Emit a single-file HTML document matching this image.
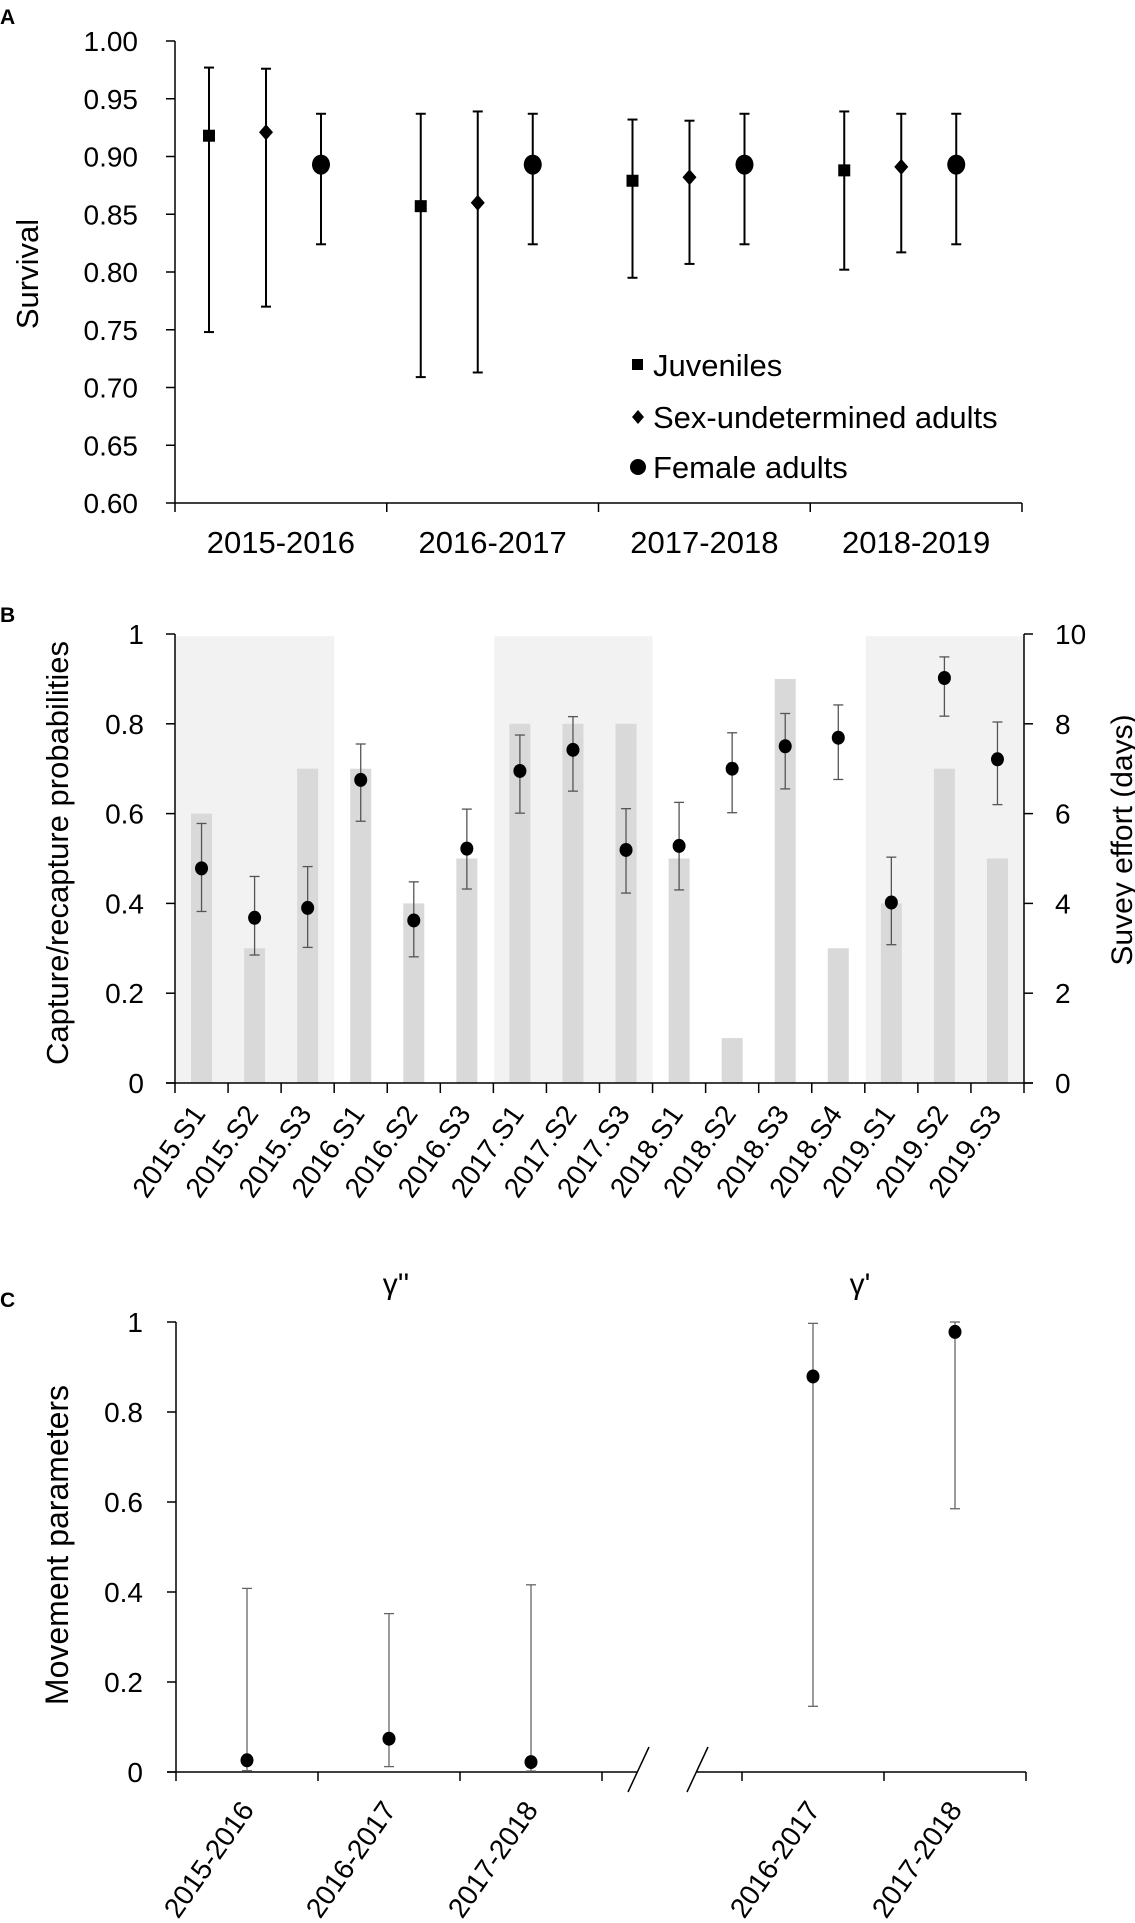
<!DOCTYPE html>
<html><head><meta charset="utf-8"><style>
html,body{margin:0;padding:0;background:#fff}
svg{display:block;font-family:"Liberation Sans",Arial,sans-serif}
</style></head><body>
<svg id="fig" width="1135" height="1923" viewBox="0 0 1135 1923" xmlns="http://www.w3.org/2000/svg">
<g id="pA"></g>
<g id="pB"></g>
<g id="pC"></g>
</svg>
<script>
// Panel A data
const aGroups = ["2015-2016","2016-2017","2017-2018","2018-2019"];
const aYTicks = [0.60,0.65,0.70,0.75,0.80,0.85,0.90,0.95,1.00];
const juvEst = [0.918,0.857,0.879,0.888];
const juvLo  = [0.748,0.709,0.795,0.802];
const juvHi  = [0.977,0.937,0.932,0.939];
const sexEst = [0.921,0.860,0.882,0.891];
const sexLo  = [0.770,0.713,0.807,0.817];
const sexHi  = [0.976,0.939,0.931,0.937];
const femEst = [0.893,0.893,0.893,0.893];
const femLo  = [0.824,0.824,0.824,0.824];
const femHi  = [0.937,0.937,0.937,0.937];
const aLegend = ["Juveniles","Sex-undetermined adults","Female adults"];

// Panel B data
const bCats = ["2015.S1","2015.S2","2015.S3","2016.S1","2016.S2","2016.S3","2017.S1","2017.S2","2017.S3","2018.S1","2018.S2","2018.S3","2018.S4","2019.S1","2019.S2","2019.S3"];
const bEffort = [6,3,7,7,4,5,8,8,8,5,1,9,3,4,7,5];
const bEst = [0.478,0.368,0.390,0.675,0.362,0.522,0.695,0.742,0.519,0.528,0.700,0.750,0.769,0.402,0.902,0.721];
const bLo  = [0.382,0.285,0.302,0.583,0.281,0.432,0.601,0.650,0.423,0.430,0.602,0.655,0.676,0.308,0.817,0.620];
const bHi  = [0.578,0.460,0.482,0.755,0.448,0.610,0.775,0.816,0.611,0.625,0.780,0.823,0.842,0.503,0.949,0.804];
const bBands = [[0,2],[6,8],[13,15]];
const bLeftTicks = [0,0.2,0.4,0.6,0.8,1];
const bRightTicks = [0,2,4,6,8,10];

// Panel C data
const cLeftCats = ["2015-2016","2016-2017","2017-2018"];
const cLeftEst = [0.026,0.074,0.022];
const cLeftLo  = [0.003,0.012,0.002];
const cLeftHi  = [0.408,0.352,0.416];
const cRightCats = ["2016-2017","2017-2018"];
const cRightEst = [0.879,0.978];
const cRightLo  = [0.146,0.585];
const cRightHi  = [0.997,1.000];
const cYTicks = [0,0.2,0.4,0.6,0.8,1];

const NS="http://www.w3.org/2000/svg";
function mk(parent, tag, attrs, text){
  const e=document.createElementNS(NS,tag);
  for(const k in attrs) e.setAttribute(k,attrs[k]);
  if(text!==undefined) e.textContent=text;
  parent.appendChild(e); return e;
}

// ---------- Panel A ----------
(function(){
  const g=document.getElementById('pA');
  const x0=175,x1=1022,yT=41,yB=503;
  const y=v=>yB-(v-0.6)/0.4*(yB-yT);
  const gw=(x1-x0)/aGroups.length;
  let t=mk(g,'text',{x:0,y:24,'font-size':21,'font-weight':'bold'},'A');
   
  let ax=mk(g,'line',{x1:x0,y1:yT,x2:x0,y2:yB,stroke:'#000','stroke-width':1.5});
   
  ax=mk(g,'line',{x1:x0,y1:yB,x2:x1,y2:yB,stroke:'#000','stroke-width':1.5});
   
  aYTicks.forEach(v=>{
    mk(g,'line',{x1:x0-9,y1:y(v),x2:x0,y2:y(v),stroke:'#000','stroke-width':1.5});
    const l=mk(g,'text',{x:138,y:y(v)+10,'font-size':28,'text-anchor':'end'},v.toFixed(2));
     
  });
  for(let i=0;i<=aGroups.length;i++) mk(g,'line',{x1:x0+i*gw,y1:yB,x2:x0+i*gw,y2:yB+9,stroke:'#000','stroke-width':1.5});
  aGroups.forEach((c,i)=>{
    const l=mk(g,'text',{x:x0+gw*(i+0.5),y:553,'font-size':31,'text-anchor':'middle'},c);
     
  });
  const yl=mk(g,'text',{transform:'translate(38,274) rotate(-90)','font-size':31,'text-anchor':'middle'},'Survival');
   
  const series=[[juvEst,juvLo,juvHi,'sq'],[sexEst,sexLo,sexHi,'di'],[femEst,femLo,femHi,'ci']];
  series.forEach(([e,lo,hi,shape],si)=>{
    e.forEach((v,i)=>{
      const xx= x0+gw*i+[34,91,146][si];
      const gg=mk(g,'g',{});
      
      
      mk(gg,'line',{x1:xx,y1:y(hi[i]),x2:xx,y2:y(lo[i]),stroke:'#000','stroke-width':2});
      mk(gg,'line',{x1:xx-5,y1:y(hi[i]),x2:xx+5,y2:y(hi[i]),stroke:'#000','stroke-width':2});
      mk(gg,'line',{x1:xx-5,y1:y(lo[i]),x2:xx+5,y2:y(lo[i]),stroke:'#000','stroke-width':2});
      const yy=y(v);
      if(shape==='sq') mk(gg,'rect',{x:xx-6,y:yy-6,width:12,height:12,fill:'#000'});
      else if(shape==='di') mk(gg,'polygon',{points:`${xx},${yy-8} ${xx+7},${yy} ${xx},${yy+8} ${xx-7},${yy}`,fill:'#000'});
      else mk(gg,'ellipse',{cx:xx,cy:yy,rx:9,ry:10,fill:'#000'});
    });
  });
  const ly=[376,428,478];
  aLegend.forEach((s,i)=>{
    const lg=mk(g,'g',{});
     
    const cy=ly[i]-11;
    if(i===0) mk(lg,'rect',{x:632,y:cy-6,width:11,height:11,fill:'#000'});
    else if(i===1) mk(lg,'polygon',{points:`638,${cy-7} 644,${cy} 638,${cy+7} 632,${cy}`,fill:'#000'});
    else mk(lg,'circle',{cx:638,cy:cy,r:8,fill:'#000'});
    mk(lg,'text',{x:653,y:ly[i],'font-size':31},s);
  });
})();

// ---------- Panel B ----------
(function(){
  const g=document.getElementById('pB');
  const x0=175,x1=1024,yT=634,yB=1083;
  const y=v=>yB-v*(yB-yT);
  const yr=v=>yB-v/10*(yB-yT);
  const cw=(x1-x0)/bCats.length;
  const cx=i=>x0+cw*(i+0.5);
  let t=mk(g,'text',{x:0,y:622,'font-size':21,'font-weight':'bold'},'B');
   
  bBands.forEach(([a,b])=>{
    const r=mk(g,'rect',{x:x0+cw*a+1,y:y(0.995),width:cw*(b-a+1)-1,height:y(0)-y(0.995),fill:'#f2f2f2'});
     
  });
  bEffort.forEach((v,i)=>{
    const r=mk(g,'rect',{x:cx(i)-10.5,y:yr(v),width:21,height:yB-yr(v),fill:'#d9d9d9'});
     
  });
  let ax=mk(g,'line',{x1:x0,y1:yT,x2:x0,y2:yB,stroke:'#000','stroke-width':1.5});
   
  ax=mk(g,'line',{x1:x1,y1:yT,x2:x1,y2:yB,stroke:'#000','stroke-width':1.5});
   
  ax=mk(g,'line',{x1:x0-9,y1:yB,x2:x1+9,y2:yB,stroke:'#000','stroke-width':1.5});
   
  bLeftTicks.forEach(v=>{
    mk(g,'line',{x1:x0-9,y1:y(v),x2:x0,y2:y(v),stroke:'#000','stroke-width':1.5});
    const l=mk(g,'text',{x:144,y:y(v)+10,'font-size':28,'text-anchor':'end'},String(v));
     
  });
  bRightTicks.forEach(v=>{
    mk(g,'line',{x1:x1,y1:yr(v),x2:x1+9,y2:yr(v),stroke:'#000','stroke-width':1.5});
    const l=mk(g,'text',{x:1055,y:yr(v)+10,'font-size':28},String(v));
     
  });
  for(let i=0;i<=bCats.length;i++) mk(g,'line',{x1:x0+i*cw,y1:yB,x2:x0+i*cw,y2:yB+10,stroke:'#000','stroke-width':1.5});
  bCats.forEach((c,i)=>{
    const l=mk(g,'text',{transform:`translate(${cx(i)+5},${1114}) rotate(-55)`,'font-size':28,'text-anchor':'end'},c);
     
  });
  bEst.forEach((v,i)=>{
    const gg=mk(g,'g',{});
     
    const xx=cx(i);
    mk(gg,'line',{x1:xx,y1:y(bHi[i]),x2:xx,y2:y(bLo[i]),stroke:'#555','stroke-width':1.3});
    mk(gg,'line',{x1:xx-5,y1:y(bHi[i]),x2:xx+5,y2:y(bHi[i]),stroke:'#555','stroke-width':1.3});
    mk(gg,'line',{x1:xx-5,y1:y(bLo[i]),x2:xx+5,y2:y(bLo[i]),stroke:'#555','stroke-width':1.3});
    mk(gg,'ellipse',{cx:xx,cy:y(v),rx:6.5,ry:7,fill:'#000'});
  });
  let yl=mk(g,'text',{transform:'translate(68,853) rotate(-90)','font-size':31,'text-anchor':'middle'},'Capture/recapture probabilities');
   
  yl=mk(g,'text',{transform:'translate(1132,840) rotate(-90)','font-size':30,'text-anchor':'middle'},'Suvey effort (days)');
   
})();

// ---------- Panel C ----------
(function(){
  const g=document.getElementById('pC');
  const x0=176,yT=1322,yB=1772,cw=142;
  const y=v=>yB-v*(yB-yT);
  let t=mk(g,'text',{x:0,y:1307,'font-size':21,'font-weight':'bold'},'C');
   
  let ax=mk(g,'line',{x1:x0,y1:yT,x2:x0,y2:yB,stroke:'#000','stroke-width':1.5});
   
  ax=mk(g,'line',{x1:x0-9,y1:yB,x2:637,y2:yB,stroke:'#000','stroke-width':1.5});
   
  ax=mk(g,'line',{x1:697,y1:yB,x2:1026,y2:yB,stroke:'#000','stroke-width':1.5});
   
  let br=mk(g,'line',{x1:628,y1:1792,x2:649,y2:1747,stroke:'#000','stroke-width':1.5});
   
  br=mk(g,'line',{x1:687,y1:1792,x2:708,y2:1747,stroke:'#000','stroke-width':1.5});
   
  cYTicks.forEach(v=>{
    mk(g,'line',{x1:x0-9,y1:y(v),x2:x0,y2:y(v),stroke:'#000','stroke-width':1.5});
    const l=mk(g,'text',{x:143,y:y(v)+10,'font-size':28,'text-anchor':'end'},String(v));
     
  });
  for(let i=0;i<=cLeftCats.length;i++) mk(g,'line',{x1:x0+i*cw,y1:yB,x2:x0+i*cw,y2:yB+9,stroke:'#000','stroke-width':1.5});
  for(let i=0;i<=cRightCats.length;i++) mk(g,'line',{x1:742+i*cw,y1:yB,x2:742+i*cw,y2:yB+9,stroke:'#000','stroke-width':1.5});
  function drawPts(cats,est,lo,hi,originX,name){
    cats.forEach((c,i)=>{
      const xx=originX+cw*(i+0.5);
      const gg=mk(g,'g',{});
       
      mk(gg,'line',{x1:xx,y1:y(hi[i]),x2:xx,y2:y(lo[i]),stroke:'#666','stroke-width':1.3});
      mk(gg,'line',{x1:xx-5,y1:y(hi[i]),x2:xx+5,y2:y(hi[i]),stroke:'#666','stroke-width':1.3});
      mk(gg,'line',{x1:xx-5,y1:y(lo[i]),x2:xx+5,y2:y(lo[i]),stroke:'#666','stroke-width':1.3});
      mk(gg,'ellipse',{cx:xx,cy:y(est[i]),rx:6.5,ry:7,fill:'#000'});
      const l=mk(g,'text',{transform:`translate(${xx+8},${1810}) rotate(-55)`,'font-size':28,'text-anchor':'end'},c);
       
    });
  }
  drawPts(cLeftCats,cLeftEst,cLeftLo,cLeftHi,x0,'gamma-double-prime-point');
  drawPts(cRightCats,cRightEst,cRightLo,cRightHi,742,'gamma-prime-point');
  let tt=mk(g,'text',{x:396,y:1294,'font-size':30,'text-anchor':'middle'},"γ''");
   
  tt=mk(g,'text',{x:860,y:1294,'font-size':30,'text-anchor':'middle'},"γ'");
   
  const yl=mk(g,'text',{transform:'translate(68,1545) rotate(-90)','font-size':32,'text-anchor':'middle'},'Movement parameters');
   
})();
</script>
</body></html>
